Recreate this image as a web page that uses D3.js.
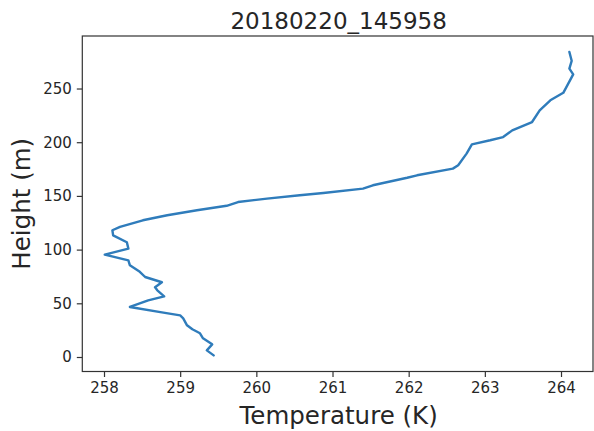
<!DOCTYPE html>
<html>
<head>
<meta charset="utf-8">
<script src="https://cdn.jsdelivr.net/npm/d3@7"></script>
<style>
    body { margin: 0; background: #fff; }
    svg text { font-family: "DejaVu Sans", sans-serif; fill: #262626; }
</style>
</head>
<body>
<div id="chart"></div>
<script>
// profile, bottom to top
const temperature = [259.44, 259.35, 259.42, 259.30, 259.26, 259.16, 259.09, 259.04, 259.00, 258.76,
    258.34, 258.58, 258.79, 258.70, 258.67, 258.76, 258.54, 258.47, 258.34, 258.32,
    258.01, 258.32, 258.30, 258.12, 258.11, 258.21, 258.51, 258.83, 259.22, 259.61,
    259.76, 260.14, 260.57, 260.88, 261.40, 261.53, 261.98, 262.11, 262.58, 262.65,
    262.76, 262.83, 263.07, 263.24, 263.36, 263.62, 263.72, 263.86, 264.03, 264.16,
    264.11, 264.14, 264.11];
const heightM = [1.5, 6.2, 11.8, 17.4, 22.1, 25.8, 29.5, 36.0, 38.7, 41.6,
    46.6, 52.8, 56.5, 62.1, 64.9, 69.6, 74.5, 79.3, 85.4, 90.0,
    95.3, 100.9, 106.8, 113.3, 118.0, 121.2, 127.3, 132.0, 136.6, 140.8,
    144.3, 147.5, 150.6, 152.7, 156.8, 159.9, 166.9, 169.2, 175.4, 178.5,
    189.4, 198.0, 201.8, 204.8, 211.0, 218.8, 229.7, 239.0, 246.0, 263.2,
    268.5, 275.8, 284.0];

const xTicks = [258, 259, 260, 261, 262, 263, 264];
const yTicks = [0, 50, 100, 150, 200, 250];
const title = "20180220_145958";

const margin = {top: 36, right: 1, bottom: 59.5, left: 82.3},
    width = 594 - margin.left - margin.right,
    height = 431 - margin.top - margin.bottom;

const data = temperature.map((t, i) => ({t, h: heightM[i]}));

const x = d3.scaleLinear()
    .domain([257.715, 264.42])
    .range([0, width]);

const y = d3.scaleLinear()
    .domain([-13.5, 298.9])
    .range([height, 0]);

const svg = d3.select("#chart")
    .append("svg")
    .attr("width", 594)
    .attr("height", 431)
    .append("g")
    .attr("transform", "translate(" + margin.left + "," + margin.top + ")");

const line = d3.line()
    .x(d => x(d.t))
    .y(d => y(d.h));

svg.append("path")
    .datum(data)
    .attr("fill", "none")
    .attr("stroke", "#2f7cbb")
    .attr("stroke-width", 2.4)
    .attr("stroke-linejoin", "round")
    .attr("stroke-linecap", "round")
    .attr("d", line);

const xAxis = d3.axisBottom(x)
    .tickValues(xTicks)
    .tickSize(5.5)
    .tickPadding(5)
    .tickSizeOuter(0)
    .tickFormat(d3.format("d"));

const yAxis = d3.axisLeft(y)
    .tickValues(yTicks)
    .tickSize(5.5)
    .tickPadding(5)
    .tickSizeOuter(0)
    .tickFormat(d3.format("d"));

const gx = svg.append("g")
    .attr("transform", "translate(0," + height + ")")
    .call(xAxis);
const gy = svg.append("g").call(yAxis);

[gx, gy].forEach(g => {
    g.select(".domain").remove();
    g.selectAll(".tick line").attr("stroke", "#333").attr("stroke-width", 1.2);
    g.selectAll(".tick text").attr("font-size", 15).attr("fill", "#262626");
});

// frame
svg.append("rect")
    .attr("width", width)
    .attr("height", height)
    .attr("fill", "none")
    .attr("stroke", "#333")
    .attr("stroke-width", 1.2);

svg.append("text")
    .attr("x", width / 2 + 1)
    .attr("y", -7)
    .attr("text-anchor", "middle")
    .attr("font-size", 23)
    .text(title);

svg.append("text")
    .attr("x", (595 - margin.left) / 2)
    .attr("y", height + 52)
    .attr("text-anchor", "middle")
    .attr("font-size", 24.5)
    .text("Temperature (K)");

svg.append("text")
    .attr("transform", "translate(" + (30 - margin.left) + "," + height / 2 + ") rotate(-90)")
    .attr("text-anchor", "middle")
    .attr("font-size", 24.5)
    .text("Height (m)");
</script>
</body>
</html>
